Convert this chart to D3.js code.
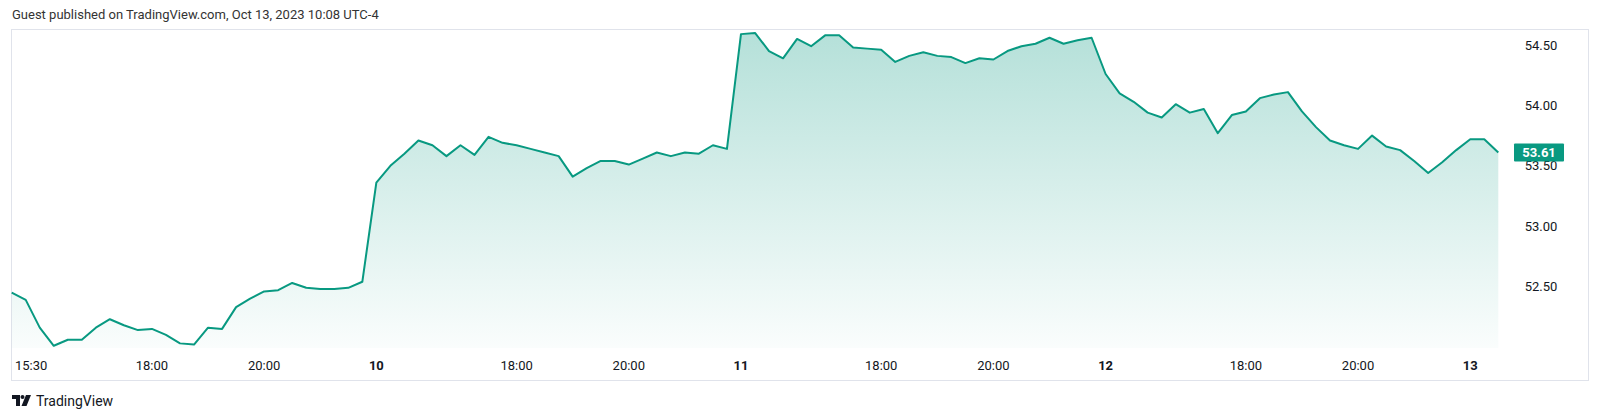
<!DOCTYPE html>
<html>
<head>
<meta charset="utf-8">
<script src="https://cdn.jsdelivr.net/npm/d3@7"></script>
<style>
  body { margin: 0; background: #fff; }
  svg { display: block; font-family: Roboto, "Liberation Sans", sans-serif; }
</style>
</head>
<body>
<div id="chart"></div>
<script>
// 15 minute closes, one array per session day
var oct9 = [52.45, 52.39, 52.16, 52.01, 52.06, 52.06, 52.16, 52.23, 52.18, 52.14, 52.15, 52.10, 52.03,
  52.02, 52.16, 52.15, 52.33, 52.40, 52.46, 52.47, 52.53, 52.49, 52.48, 52.48, 52.49, 52.54]
var oct10 = [53.36, 53.50, 53.60, 53.71, 53.67, 53.58, 53.67, 53.59, 53.74, 53.69, 53.67, 53.64, 53.61,
  53.58, 53.41, 53.48, 53.54, 53.54, 53.51, 53.56, 53.61, 53.58, 53.61, 53.60, 53.67, 53.64]
var oct11 = [54.59, 54.60, 54.45, 54.39, 54.55, 54.49, 54.58, 54.58, 54.48, 54.47, 54.46, 54.36, 54.41,
  54.44, 54.41, 54.40, 54.35, 54.39, 54.38, 54.45, 54.49, 54.51, 54.56, 54.51, 54.54, 54.56]
var oct12 = [54.26, 54.10, 54.03, 53.94, 53.90, 54.01, 53.94, 53.97, 53.77, 53.92, 53.95, 54.06, 54.09,
  54.11, 53.95, 53.82, 53.71, 53.67, 53.64, 53.75, 53.66, 53.63, 53.54, 53.44, 53.53, 53.63]
var oct13 = [53.72, 53.72, 53.61]

var tickIndex = [0, 10, 18, 26, 36, 44, 52, 62, 70, 78, 88, 96, 104]
var tickLabels = ["15:30", "18:00", "20:00", "10", "18:00", "20:00", "11", "18:00", "20:00", "12", "18:00", "20:00", "13"]
var priceTicks = [52.5, 53, 53.5, 54, 54.5]

var values = oct9.concat(oct10, oct11, oct12, oct13)
var lastPrice = values[values.length - 1]

var width = 1600,
  height = 419,
  green = "#089981"

var svg = d3.select("#chart")
  .append("svg")
  .attr("width", width)
  .attr("height", height)

var x = d3.scaleLinear()
  .domain([0, values.length - 1])
  .range([11.7, 1498.3])

var y = d3.scaleLinear()
  .domain([52.5, 54.5])
  .range([286.6, 45])

var plotBottom = 348

// header
svg.append("text")
  .attr("x", 12)
  .attr("y", 19)
  .attr("font-size", "13px")
  .attr("fill", "#333")
  .text("Guest published on TradingView.com, Oct 13, 2023 10:08 UTC-4")

// frame
svg.append("rect")
  .attr("x", 11.5)
  .attr("y", 29.5)
  .attr("width", 1577)
  .attr("height", 351)
  .attr("fill", "none")
  .attr("stroke", "#e0e3eb")

var grad = svg.append("defs")
  .append("linearGradient")
  .attr("id", "fade")
  .attr("gradientUnits", "userSpaceOnUse")
  .attr("x1", 0).attr("x2", 0)
  .attr("y1", y(d3.max(values))).attr("y2", plotBottom)
grad.append("stop").attr("offset", 0).attr("stop-color", green).attr("stop-opacity", 0.3)
grad.append("stop").attr("offset", 1).attr("stop-color", green).attr("stop-opacity", 0.02)

var area = d3.area()
  .x(function(d, i) { return x(i) })
  .y0(plotBottom)
  .y1(function(d) { return y(d) })

var line = d3.line()
  .x(function(d, i) { return x(i) })
  .y(function(d) { return y(d) })

svg.append("path")
  .datum(values)
  .attr("d", area)
  .attr("fill", "url(#fade)")

svg.append("path")
  .datum(values)
  .attr("d", line)
  .attr("fill", "none")
  .attr("stroke", green)
  .attr("stroke-width", 2)
  .attr("stroke-linejoin", "round")

// price scale
svg.append("g")
  .selectAll("text")
  .data(priceTicks)
  .enter()
  .append("text")
  .attr("x", 1541)
  .attr("y", function(d) { return y(d) })
  .attr("dy", "0.35em")
  .attr("text-anchor", "middle")
  .attr("font-size", "13px")
  .attr("fill", "#131722")
  .text(function(d) { return d3.format(".2f")(d) })

// last price tag
svg.append("rect")
  .attr("x", 1514)
  .attr("y", y(lastPrice) - 9)
  .attr("width", 50)
  .attr("height", 18)
  .attr("rx", 1)
  .attr("fill", green)

svg.append("text")
  .attr("x", 1539)
  .attr("y", y(lastPrice))
  .attr("dy", "0.35em")
  .attr("text-anchor", "middle")
  .attr("font-size", "13px")
  .attr("font-weight", "bold")
  .attr("fill", "#fff")
  .text(d3.format(".2f")(lastPrice))

// time scale
var timeLabels = svg.append("g")
  .selectAll("text")
  .data(tickIndex)
  .enter()
  .append("text")
  .attr("x", function(d) { return x(d) })
  .attr("y", 365)
  .attr("dy", "0.35em")
  .attr("text-anchor", "middle")
  .attr("font-size", "13px")
  .attr("font-weight", function(d, i) { return tickLabels[i].length <= 2 ? "bold" : "normal" })
  .attr("fill", "#131722")
  .text(function(d, i) { return tickLabels[i] })

// keep the first label inside the frame like TradingView does
timeLabels.each(function() {
  var w = this.getComputedTextLength()
  var cx = +d3.select(this).attr("x")
  if (cx - w / 2 < 15) d3.select(this).attr("x", 15 + w / 2)
})

// footer logo
var logo = svg.append("g").attr("transform", "translate(12, 395)").attr("fill", "#131722")
logo.append("path").attr("d", "M0 0 H8 V11 H4 V4 H0 Z")
logo.append("circle").attr("cx", 10.5).attr("cy", 2).attr("r", 2)
logo.append("path").attr("d", "M14 0 H19 L14.5 11 H9.5 Z")

svg.append("text")
  .attr("x", 36)
  .attr("y", 401)
  .attr("dy", "0.35em")
  .attr("font-size", "14px")
  .attr("fill", "#131722")
  .text("TradingView")
</script>
</body>
</html>
